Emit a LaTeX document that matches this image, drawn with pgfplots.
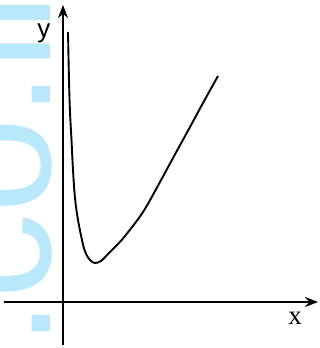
\documentclass[border=0pt]{standalone}
\usepackage{pgfplots}
\pgfplotsset{compat=1.18}
\usepackage{fontspec}
\setmainfont{Liberation Serif}
\setsansfont{Liberation Sans}
\usetikzlibrary{arrows.meta}
\definecolor{wm}{RGB}{184,232,250}

\begin{document}
\begin{tikzpicture}
\begin{axis}[x=1pt,y=1pt,axis lines=middle,
  xmin=-59,xmax=255,ymin=-43,ymax=297,
  xtick=\empty,ytick=\empty,clip=false,
  axis line style={line width=1.8pt,-{Stealth[length=13pt,width=10pt]}},
  xlabel={x},ylabel={y},
  xlabel style={at={(axis cs:232,-16)},anchor=center,inner sep=0pt,font=\fontsize{27}{27}\selectfont},
  ylabel style={at={(axis cs:-19,269)},anchor=center,inner sep=0pt,font=\sffamily\fontsize{26}{26}\selectfont}]
\node[rotate=90,anchor=base west,text=wm,inner sep=0pt,
  font=\sffamily\fontsize{172}{172}\selectfont] at (axis cs:-12,-46) {.co.in};
\addplot[black,line width=1.9pt,smooth,tension=0.6] coordinates {
  (5,270) (6,222) (7,190) (8.5,162) (10,132) (12,104) (15,82) (19,62)
  (21.5,52) (25,44.5) (28,41) (32,39) (38,41) (45,48) (53,56) (62,66)
  (80,90) (97,120) (110,144) (127,175) (140,199) (155,226)};
\coordinate (bl) at (axis cs:-63,-46);
\coordinate (tr) at (axis cs:257,302);
\end{axis}
\pgfresetboundingbox
\useasboundingbox (bl) rectangle (tr);
\end{tikzpicture}
\end{document}
